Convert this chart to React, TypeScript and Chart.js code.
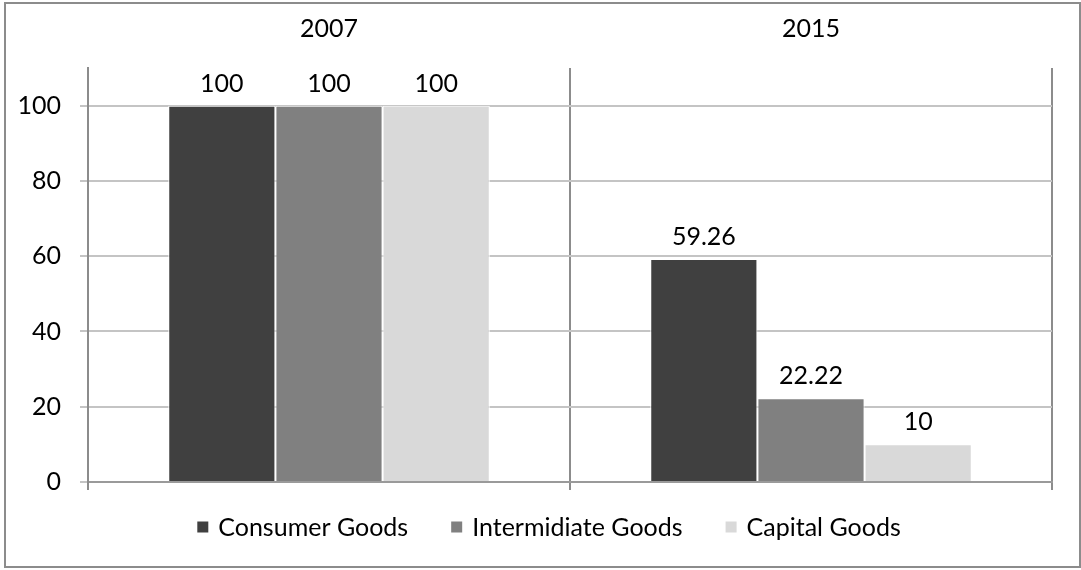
import React, { useEffect, useRef } from "react";
import { Chart, registerables } from "chart.js";

Chart.register(...registerables);

const categories = ["2007", "2015"];
const seriesNames = ["Consumer Goods", "Intermidiate Goods", "Capital Goods"];
const consumerGoods = [100, 59.26];
const intermediateGoods = [100, 22.22];
const capitalGoods = [100, 10];
const yTicks = [0, 20, 40, 60, 80, 100];
const seriesColors = ["#404040", "#808080", "#d9d9d9"];

const FONT = "Lato, 'Open Sans', sans-serif";
const FONT_SIZE = 25;

const framePlugin = {
  id: "frame",
  beforeDraw(chart: any) {
    const ctx = chart.ctx;
    ctx.save();
    ctx.fillStyle = "#ffffff";
    ctx.fillRect(0, 0, chart.width, chart.height);
    ctx.strokeStyle = "#8c8c8c";
    ctx.lineWidth = 2;
    ctx.strokeRect(5, 3, chart.width - 6, chart.height - 6);
    ctx.restore();
  },
};

const valueLabelPlugin = {
  id: "valueLabels",
  afterDatasetsDraw(chart: any) {
    const ctx = chart.ctx;
    ctx.save();
    ctx.font = `${FONT_SIZE}px ${FONT}`;
    ctx.fillStyle = "#000000";
    ctx.textAlign = "center";
    ctx.textBaseline = "middle";
    chart.data.datasets.forEach((ds: any, i: number) => {
      const meta = chart.getDatasetMeta(i);
      meta.data.forEach((bar: any, j: number) => {
        ctx.fillText(String(ds.data[j]), bar.x, bar.y - 22);
      });
    });
    ctx.restore();
  },
};

const legendPlugin = {
  id: "customLegend",
  afterDraw(chart: any) {
    const ctx = chart.ctx;
    ctx.save();
    ctx.font = `${FONT_SIZE}px ${FONT}`;
    ctx.textBaseline = "middle";
    ctx.textAlign = "left";
    const box = 11;
    const boxGap = 10;
    const itemGap = 43;
    const items = chart.data.datasets.map((ds: any) => ({
      label: ds.label,
      color: ds.backgroundColor,
      w: ctx.measureText(ds.label).width,
    }));
    const total =
      items.reduce((s: number, it: any) => s + box + boxGap + it.w, 0) +
      itemGap * (items.length - 1);
    let x = 549 - total / 2;
    const cy = 527;
    items.forEach((it: any) => {
      ctx.fillStyle = it.color;
      ctx.fillRect(x, cy - box / 2, box, box);
      ctx.fillStyle = "#000000";
      ctx.fillText(it.label, x + box + boxGap, cy + 1);
      x += box + boxGap + it.w + itemGap;
    });
    ctx.restore();
  },
};

export default function App() {
  const ref = useRef<HTMLCanvasElement | null>(null);

  useEffect(() => {
    document.body.style.margin = "0";
    const canvas = ref.current;
    if (!canvas) return;
    const seriesData = [consumerGoods, intermediateGoods, capitalGoods];
    const chart = new Chart(canvas, {
      type: "bar",
      data: {
        labels: categories,
        datasets: seriesNames.map((name, i) => ({
          label: name,
          data: seriesData[i],
          backgroundColor: seriesColors[i],
          borderColor: "#ffffff",
          borderWidth: 1,
          categoryPercentage: 0.667,
          barPercentage: 1,
          xAxisID: "x",
          yAxisID: "y",
        })),
      },
      options: {
        responsive: false,
        animation: false,
        devicePixelRatio: 1,
        layout: { padding: { top: 0, left: 0, right: 29, bottom: 80 } },
        plugins: {
          legend: { display: false },
          tooltip: { enabled: false },
          title: { display: false },
        },
        scales: {
          x: {
            type: "category",
            position: "bottom",
            offset: true,
            ticks: { display: false },
            grid: {
              offset: true,
              color: "#8c8c8c",
              lineWidth: 2,
              tickLength: 8,
              drawTicks: true,
            },
            border: { display: true, color: "#9a9a9a", width: 2 },
            afterFit: (s: any) => {
              s.height = 8;
            },
          },
          x2: {
            type: "category",
            position: "top",
            labels: categories,
            offset: true,
            grid: { display: false },
            border: { display: false },
            ticks: {
              color: "#000000",
              font: { family: FONT, size: FONT_SIZE },
              padding: 16,
            },
            afterFit: (s: any) => {
              s.height = 68;
            },
          },
          y: {
            type: "linear",
            min: 0,
            max: 110,
            afterBuildTicks: (s: any) => {
              s.ticks = yTicks.map((v) => ({ value: v }));
            },
            ticks: {
              color: "#000000",
              font: { family: FONT, size: FONT_SIZE },
              padding: 19,
              callback: (v: any) => String(v),
            },
            grid: {
              color: "#c4c4c4",
              lineWidth: 2,
              tickLength: 8,
              drawTicks: true,
            },
            border: { display: true, color: "#8c8c8c", width: 2 },
            afterFit: (s: any) => {
              s.width = 88;
            },
          },
        },
      },
      plugins: [framePlugin, valueLabelPlugin, legendPlugin],
    });
    return () => chart.destroy();
  }, []);

  return (
    <div style={{ width: 1081, height: 570 }}>
      <canvas ref={ref} width={1081} height={570} style={{ display: "block" }} />
    </div>
  );
}
